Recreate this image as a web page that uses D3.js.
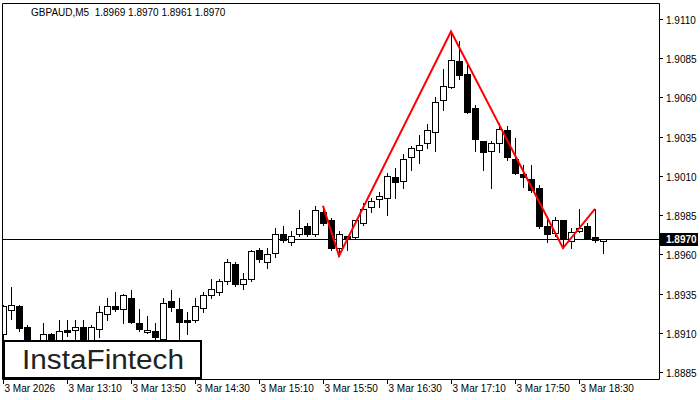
<!DOCTYPE html>
<html>
<head>
<meta charset="utf-8">
<script src="https://cdn.jsdelivr.net/npm/d3@7"></script>
<style>
  body { margin: 0; background: #fff; }
  text { font-family: "Liberation Sans", Arial, sans-serif; }
</style>
</head>
<body>
<svg id="chart" width="700" height="400"></svg>
<script>
// OHLC of each 5-minute candle, 12:30 onwards
var opens  = [1.8909,1.8925,1.8927,1.8914,1.8899,1.8903,1.8909,1.8905,1.8912,1.8912,1.8914,1.8905,1.8912,1.8922,1.8927,1.8925,1.8932,1.8916,1.8911,1.8911,
              1.8906,1.8930,1.8925,1.8918,1.8918,1.8926,1.8934,1.8936,1.8943,1.8954,1.8941,1.8944,1.8963,1.8955,1.8961,1.8973,1.8968,1.8973,1.8978,1.8973,
              1.8987,1.8982,1.8964,1.8972,1.8971,1.8980,1.8990,1.8995,1.8996,1.9009,1.9007,1.9022,1.9027,1.9031,1.9038,1.9058,1.9067,1.9083,1.9075,1.9053,
              1.9032,1.9026,1.9031,1.9039,1.9021,1.9011,1.9008,1.9002,1.8978,1.8974,1.8982,1.8968,1.8975,1.8978,1.8971,1.8969];
var highs  = [1.8928,1.8939,1.8928,1.8915,1.8902,1.8916,1.8910,1.8918,1.8918,1.8918,1.8918,1.8915,1.8927,1.8932,1.8936,1.8935,1.8937,1.8925,1.8921,1.8916,
              1.8932,1.8937,1.8932,1.8923,1.8932,1.8936,1.8944,1.8944,1.8957,1.8955,1.8948,1.8963,1.8964,1.8964,1.8977,1.8978,1.8975,1.8988,1.8980,1.8991,
              1.8991,1.8983,1.8975,1.8972,1.8982,1.8993,1.8996,1.9000,1.9012,1.9015,1.9024,1.9029,1.9036,1.9043,1.9060,1.9078,1.9102,1.9096,1.9081,1.9055,
              1.9032,1.9032,1.9044,1.9042,1.9034,1.9017,1.9017,1.9004,1.8984,1.8984,1.8982,1.8977,1.8989,1.8980,1.8989,1.8970];
var lows   = [1.8904,1.8919,1.8911,1.8897,1.8893,1.8900,1.8899,1.8903,1.8908,1.8906,1.8900,1.8903,1.8907,1.8918,1.8924,1.8916,1.8916,1.8911,1.8910,1.8906,
              1.8905,1.8924,1.8905,1.8909,1.8917,1.8923,1.8932,1.8934,1.8941,1.8940,1.8938,1.8943,1.8955,1.8951,1.8958,1.8968,1.8966,1.8972,1.8972,1.8972,
              1.8979,1.8963,1.8959,1.8963,1.8970,1.8979,1.8987,1.8990,1.8985,1.8996,1.9002,1.9014,1.9018,1.9028,1.9026,1.9052,1.9066,1.9072,1.9050,1.9026,
              1.9014,1.9002,1.9025,1.9020,1.9011,1.9003,1.9000,1.8977,1.8968,1.8972,1.8964,1.8964,1.8974,1.8970,1.8968,1.8961];
var closes = [1.8927,1.8928,1.8913,1.8900,1.8896,1.8909,1.8902,1.8911,1.8911,1.8914,1.8903,1.8914,1.8923,1.8927,1.8925,1.8934,1.8917,1.8912,1.8912,1.8907,
              1.8929,1.8926,1.8917,1.8917,1.8927,1.8934,1.8938,1.8943,1.8955,1.8941,1.8944,1.8962,1.8957,1.8960,1.8973,1.8969,1.8972,1.8977,1.8973,1.8988,
              1.8980,1.8964,1.8973,1.8970,1.8982,1.8989,1.8994,1.8997,1.9010,1.9006,1.9021,1.9028,1.9030,1.9039,1.9057,1.9067,1.9084,1.9074,1.9051,1.9033,
              1.9025,1.9031,1.9040,1.9022,1.9012,1.9009,1.9001,1.8978,1.8973,1.8982,1.8970,1.8974,1.8977,1.8970,1.8969,1.8970];

var yTicks = [1.8885,1.8910,1.8935,1.8960,1.8985,1.9010,1.9035,1.9060,1.9085,1.9110];
var xTickIdx = [0,8,16,24,32,40,48,56,64,72];
var xTickLabels = ["3 Mar 2026","3 Mar 13:10","3 Mar 13:50","3 Mar 14:30","3 Mar 15:10","3 Mar 15:50","3 Mar 16:30","3 Mar 17:10","3 Mar 17:50","3 Mar 18:30"];

// pattern vertices: candle index, price
var patIdx   = [40, 42, 56, 70, 74];
var patPrice = [1.8991, 1.8959, 1.9102, 1.8964, 1.8989];
var lastPrice = 1.8970;

var svg = d3.select('#chart');
var pl = 2, pr = 659, pt = 3, pb = 379;

var x = d3.scaleLinear().domain([0, 1]).range([3, 11]);
var y = d3.scaleLinear().domain([1.8885, 1.9110]).range([372, 19]);

svg.append('defs').append('clipPath').attr('id', 'clip')
  .append('rect').attr('x', pl).attr('y', pt).attr('width', pr - pl).attr('height', pb - pt);

var plot = svg.append('g').attr('clip-path', 'url(#clip)');

// current price line
plot.append('line').attr('x1', pl).attr('x2', pr)
  .attr('y1', Math.round(y(lastPrice)) + 0.5).attr('y2', Math.round(y(lastPrice)) + 0.5)
  .attr('stroke', '#000');

var candles = d3.range(opens.length).map(i => ({i: i, o: opens[i], h: highs[i], l: lows[i], c: closes[i]}));

plot.selectAll('line.wick').data(candles).enter().append('line')
  .attr('class', 'wick')
  .attr('x1', d => Math.round(x(d.i)) + 0.5).attr('x2', d => Math.round(x(d.i)) + 0.5)
  .attr('y1', d => Math.round(y(d.h))).attr('y2', d => Math.round(y(d.l)) + 1)
  .attr('stroke', '#000');

plot.selectAll('rect.body').data(candles).enter().append('rect')
  .attr('class', 'body')
  .attr('x', d => Math.round(x(d.i)) - 2.5)
  .attr('y', d => Math.round(y(Math.max(d.o, d.c))) + 0.5)
  .attr('width', 6)
  .attr('height', d => Math.max(1, Math.round(Math.abs(y(d.o) - y(d.c)))))
  .attr('fill', d => d.c < d.o ? '#000' : '#fff')
  .attr('stroke', '#000');

plot.append('path')
  .datum(patIdx.map((d, k) => [x(d), y(patPrice[k])]))
  .attr('d', d3.line())
  .attr('fill', 'none').attr('stroke', '#f00').attr('stroke-width', 2);

// frame
svg.append('path')
  .attr('d', `M${pl + 0.5},${pt + 0.5}H${pr + 0.5}V${pb + 0.5}H${pl + 0.5}Z`)
  .attr('fill', 'none').attr('stroke', '#000');

// y axis
yTicks.forEach(t => {
  var yy = Math.round(y(t)) + 0.5;
  svg.append('line').attr('x1', pr).attr('x2', pr + 4).attr('y1', yy).attr('y2', yy).attr('stroke', '#000');
  svg.append('text').attr('x', 666).attr('y', yy + 4).attr('font-size', 10).attr('fill', '#000').text(t.toFixed(4));
});

// current price label
var ly = Math.round(y(lastPrice));
svg.append('rect').attr('x', pr + 1).attr('y', ly - 6).attr('width', 38).attr('height', 13).attr('fill', '#000');
svg.append('text').attr('x', 666).attr('y', ly + 4).attr('font-size', 10).attr('font-weight', 'bold')
  .attr('fill', '#fff').text(lastPrice.toFixed(4));

// x axis
xTickIdx.forEach((t, k) => {
  var xx = Math.round(x(t)) + 0.5;
  svg.append('line').attr('x1', xx).attr('x2', xx).attr('y1', pb).attr('y2', pb + 5).attr('stroke', '#000');
  svg.append('text').attr('x', xx + 1).attr('y', 392).attr('font-size', 10).attr('fill', '#000').text(xTickLabels[k]);
});

// title
svg.append('text').attr('x', 31).attr('y', 16).attr('font-size', 10).attr('fill', '#000')
  .attr('xml:space', 'preserve').text('GBPAUD,M5  1.8969 1.8970 1.8961 1.8970');

// logo
svg.append('rect').attr('x', 4).attr('y', 341).attr('width', 197).attr('height', 37)
  .attr('fill', '#fff').attr('stroke', '#000').attr('stroke-width', 2);
svg.append('text').attr('x', 22).attr('y', 369).attr('font-size', 27).attr('fill', '#222')
  .attr('font-family', 'Lato, sans-serif').attr('textLength', 162).attr('lengthAdjust', 'spacingAndGlyphs')
  .text('InstaFintech');
</script>
</body>
</html>
